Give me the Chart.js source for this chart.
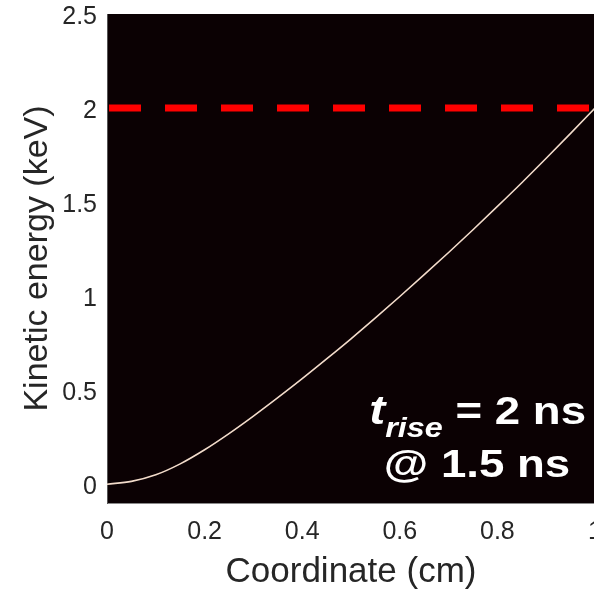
<!DOCTYPE html>
<html>
<head>
<meta charset="utf-8">
<script src="https://cdn.jsdelivr.net/npm/chart.js@4/dist/chart.umd.min.js"></script>
<style>
  html, body { margin: 0; padding: 0; background: #fff; overflow: hidden; }
  #wrap { width: 620px; height: 593px; }
</style>
</head>
<body>
<div id="wrap"><canvas id="energyChart" width="620" height="593"></canvas></div>
<script>
// values
const coordinate = [0, 0.05, 0.1, 0.15, 0.2, 0.25, 0.3, 0.35, 0.4, 0.45, 0.5,
  0.55, 0.6, 0.65, 0.7, 0.75, 0.8, 0.85, 0.9, 0.95, 1];
const energy = [0, 0.015, 0.05, 0.108, 0.183, 0.269, 0.362, 0.46, 0.561, 0.666, 0.773,
  0.884, 0.998, 1.114, 1.232, 1.353, 1.477, 1.603, 1.733, 1.865, 2.0];
const limitX = [0, 1];
const limitEnergy = [2, 2];
const xTicks = [0, 0.2, 0.4, 0.6, 0.8, 1];
const yTicks = [0, 0.5, 1, 1.5, 2, 2.5];

const FONT = "'Liberation Sans', Arial, Helvetica, sans-serif";
const TEXT = "#262626";

// black plot background
const plotBg = {
  id: "plotBg",
  beforeDraw(chart) {
    const { ctx, chartArea: a } = chart;
    ctx.save();
    ctx.fillStyle = "#0b0103";
    ctx.fillRect(a.left, a.top, a.right - a.left, a.bottom - a.top);
    ctx.restore();
  },
};

// the white annotation in the lower right
const annotation = {
  id: "annotation",
  afterDraw(chart) {
    const ctx = chart.ctx;
    const sx = 1.2;
    ctx.save();
    ctx.fillStyle = "#ffffff";
    ctx.textBaseline = "alphabetic";

    const big = "bold 38px " + FONT;
    const bigIt = "italic bold 40px " + FONT;
    const sub = "italic bold 27px " + FONT;

    const put = (txt, font, px, py) => {
      ctx.save();
      ctx.font = font;
      ctx.translate(px, py);
      ctx.scale(sx, 1);
      ctx.fillText(txt, 0, 0);
      ctx.restore();
    };

    // line 1: t_rise = 2 ns, right edge at 585
    ctx.font = bigIt;
    const wT = ctx.measureText("t").width * sx;
    ctx.font = sub;
    const wSub = ctx.measureText("rise").width * sx;
    ctx.font = big;
    const rest = " = 2 ns";
    const wRest = ctx.measureText(rest).width * sx;
    let x = 586 - (wT + wSub + wRest);
    const y1 = 424;
    put("t", bigIt, x, y1);
    x += wT;
    put("rise", sub, x, y1 + 13);
    x += wSub;
    put(rest, big, x, y1);

    // line 2: @ 1.5 ns, centred
    ctx.font = big;
    const line2 = "@ 1.5 ns";
    const w2 = ctx.measureText(line2).width * sx;
    put(line2, big, 477 - w2 / 2, 477);
    ctx.restore();
  },
};

const ctx = document.getElementById("energyChart").getContext("2d");

new Chart(ctx, {
  type: "line",
  data: {
    datasets: [
      {
        label: "Kinetic energy",
        data: coordinate.map((c, i) => ({ x: c, y: energy[i] })),
        borderColor: "#f3dccb",
        borderWidth: 1.6,
        pointRadius: 0,
        cubicInterpolationMode: "monotone",
        order: 1,
      },
      {
        label: "Limit",
        data: limitX.map((c, i) => ({ x: c, y: limitEnergy[i] })),
        borderColor: "#ff0000",
        borderWidth: 7,
        borderDash: [32, 24],
        borderDashOffset: 54,
        borderCapStyle: "butt",
        pointRadius: 0,
        order: 0,
      },
    ],
  },
  options: {
    responsive: false,
    animation: false,
    layout: { padding: { left: 0, right: 25, top: 14, bottom: 0 } },
    plugins: {
      legend: { display: false },
      tooltip: { enabled: false },
    },
    scales: {
      x: {
        type: "linear",
        min: 0,
        max: 1,
        grid: { display: false, drawTicks: false },
        border: { display: true, color: "#8a8a8a", width: 1 },
        afterBuildTicks: (s) => { s.ticks = xTicks.map((v) => ({ value: v })); },
        afterFit: (s) => { s.height = 90; },
        ticks: {
          padding: 14,
          color: TEXT,
          font: { family: FONT, size: 25 },
          maxRotation: 0,
          callback: (v) => String(v),
        },
        title: {
          display: true,
          text: "Coordinate (cm)",
          color: TEXT,
          font: { family: FONT, size: 35 },
          padding: { top: 0, bottom: 0 },
        },
      },
      y: {
        min: -0.1,
        max: 2.5,
        grid: { display: false, drawTicks: false },
        border: { display: true, color: "#555555", width: 1 },
        afterBuildTicks: (s) => { s.ticks = yTicks.map((v) => ({ value: v })); },
        afterFit: (s) => {
          s.width = 107;
          s.paddingTop = 0;
          s.paddingBottom = 0;
        },
        ticks: {
          padding: 10,
          labelOffset: 3,
          color: TEXT,
          font: { family: FONT, size: 25 },
          callback: (v) => String(v),
        },
        title: {
          display: true,
          text: "Kinetic energy (keV)",
          color: TEXT,
          font: { family: FONT, size: 34 },
          padding: { top: 17, bottom: 0 },
        },
      },
    },
  },
  plugins: [plotBg, annotation],
});
</script>
</body>
</html>
